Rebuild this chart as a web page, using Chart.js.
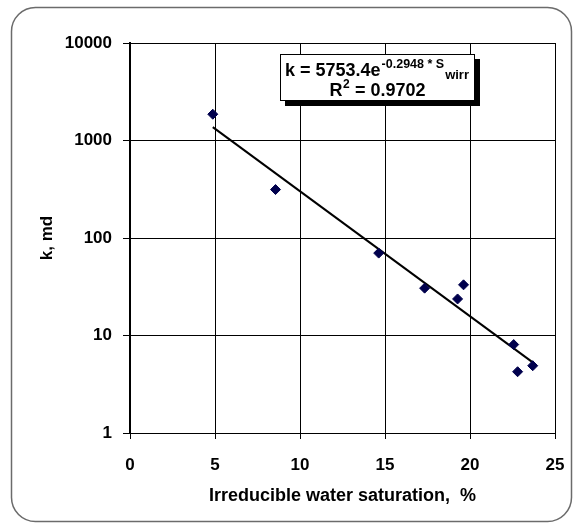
<!DOCTYPE html>
<html>
<head>
<meta charset="utf-8">
<script src="https://cdn.jsdelivr.net/npm/chart.js@4.4.1/dist/chart.umd.min.js"></script>
<style>
  html, body { margin: 0; padding: 0; background: #ffffff; }
  #wrap { width: 575px; height: 525px; position: relative; }
</style>
</head>
<body>
<div id="wrap"><canvas id="c" width="575" height="525"></canvas></div>
<script>
// Measured samples: irreducible water saturation (%) and permeability k (md)
const swirr = [4.87, 8.56, 14.63, 17.33, 19.27, 19.62, 22.57, 22.80, 23.69];
const perm  = [1860, 314, 70, 30.6, 23.7, 33.1, 8.07, 4.25, 4.9];
// Exponential trendline endpoints
const trendX = [4.87, 23.69];
const trendY = [1370, 5.3];
// Tick labels
const yTicks = [1, 10, 100, 1000, 10000];
const xTicks = [0, 5, 10, 15, 20, 25];
const xTitle = 'Irreducible water saturation,  %';
const yTitle = 'k, md';
const eqMain = 'k = 5753.4e';
const eqSup = '-0.2948 * S';
const eqSub = 'wirr';
const r2Label = 'R';
const r2Sup = '2';
const r2Value = ' = 0.9702';

const FONT = 'Liberation Sans, Arial, sans-serif';

const framePlugin = {
  id: 'frame',
  beforeDraw(chart) {
    const ctx = chart.ctx;
    ctx.save();
    ctx.fillStyle = '#ffffff';
    ctx.fillRect(0, 0, chart.width, chart.height);
    ctx.strokeStyle = '#6b6b6b';
    ctx.lineWidth = 1.5;
    const x = 11.5, y = 7.5, w = 560, h = 514, r = 24;
    ctx.beginPath();
    ctx.moveTo(x + r, y);
    ctx.lineTo(x + w - r, y);
    ctx.arcTo(x + w, y, x + w, y + r, r);
    ctx.lineTo(x + w, y + h - r);
    ctx.arcTo(x + w, y + h, x + w - r, y + h, r);
    ctx.lineTo(x + r, y + h);
    ctx.arcTo(x, y + h, x, y + h - r, r);
    ctx.lineTo(x, y + r);
    ctx.arcTo(x, y, x + r, y, r);
    ctx.closePath();
    ctx.stroke();
    ctx.restore();
  },
  afterDraw(chart) {
    const ctx = chart.ctx;
    ctx.save();
    // equation box
    const bx = 280, by = 54, bw = 195, bh = 47, sh = 5;
    ctx.fillStyle = '#000000';
    ctx.fillRect(bx + sh, by + sh, bw, bh);
    ctx.fillStyle = '#ffffff';
    ctx.fillRect(bx, by, bw, bh);
    ctx.strokeStyle = '#000000';
    ctx.lineWidth = 1;
    ctx.strokeRect(bx + 0.5, by + 0.5, bw - 1, bh - 1);

    ctx.fillStyle = '#000000';
    ctx.textBaseline = 'alphabetic';
    ctx.textAlign = 'left';
    // line 1
    ctx.font = 'bold 18px ' + FONT;
    let xPos = 285;
    ctx.fillText(eqMain, xPos, 76);
    xPos += ctx.measureText(eqMain).width;
    ctx.font = 'bold 12.5px ' + FONT;
    ctx.fillText(eqSup, xPos + 1, 68);
    xPos += ctx.measureText(eqSup).width + 2;
    ctx.font = 'bold 13px ' + FONT;
    ctx.fillText(eqSub, xPos, 79);

    // line 2 (centered)
    ctx.font = 'bold 18px ' + FONT;
    const wR = ctx.measureText(r2Label).width;
    const wV = ctx.measureText(r2Value).width;
    ctx.font = 'bold 12px ' + FONT;
    const wS = ctx.measureText(r2Sup).width;
    const total = wR + wS + 1 + wV;
    let x2 = bx + bw / 2 - total / 2;
    ctx.font = 'bold 18px ' + FONT;
    ctx.fillText(r2Label, x2, 96);
    x2 += wR;
    ctx.font = 'bold 12px ' + FONT;
    ctx.fillText(r2Sup, x2 + 0.5, 88);
    x2 += wS + 1;
    ctx.font = 'bold 18px ' + FONT;
    ctx.fillText(r2Value, x2, 96);
    ctx.restore();
  }
};

new Chart(document.getElementById('c'), {
  type: 'scatter',
  data: {
    datasets: [
      {
        label: 'samples',
        data: swirr.map((x, i) => ({ x: x, y: perm[i] })),
        pointStyle: 'rectRot',
        pointRadius: 5,
        pointBackgroundColor: '#00004d',
        pointBorderColor: '#00004d',
        pointBorderWidth: 1,
        showLine: false,
        order: 1
      },
      {
        label: 'trend',
        data: trendX.map((x, i) => ({ x: x, y: trendY[i] })),
        showLine: true,
        borderColor: '#000000',
        borderWidth: 2,
        pointRadius: 0,
        fill: false,
        order: 2
      }
    ]
  },
  options: {
    responsive: false,
    animation: false,
    devicePixelRatio: 1,
    layout: { autoPadding: false, padding: { left: 0, right: 20, top: 43, bottom: 0 } },
    plugins: {
      legend: { display: false },
      tooltip: { enabled: false }
    },
    scales: {
      x: {
        type: 'linear',
        min: 0, max: 25,
        afterBuildTicks: (s) => { s.ticks = xTicks.map(v => ({ value: v })); },
        afterFit: (s) => { s.height = 92; s.paddingLeft = 0; s.paddingRight = 0; },
        ticks: {
          color: '#000000',
          font: { family: FONT, size: 17, weight: 'bold' },
          padding: 16,
          maxRotation: 0
        },
        grid: { color: '#000000', lineWidth: 1, tickLength: 6, drawTicks: true },
        border: { color: '#000000', width: 1 },
        title: {
          display: true,
          text: xTitle,
          color: '#000000',
          font: { family: FONT, size: 18, weight: 'bold' },
          padding: { top: 0, bottom: 18 }
        }
      },
      y: {
        type: 'logarithmic',
        min: 1, max: 10000,
        afterBuildTicks: (s) => { s.ticks = yTicks.map(v => ({ value: v, major: true })); },
        afterFit: (s) => { s.width = 130; s.paddingTop = 0; s.paddingBottom = 0; },
        ticks: {
          color: '#000000',
          font: { family: FONT, size: 17, weight: 'bold' },
          padding: 11,
          callback: (v) => String(v)
        },
        grid: { color: '#000000', lineWidth: 1, tickLength: 7, drawTicks: true },
        border: { color: '#000000', width: 2 },
        title: {
          display: true,
          text: yTitle,
          color: '#000000',
          font: { family: FONT, size: 17, weight: 'bold' },
          padding: { top: 37, bottom: 0 }
        }
      }
    }
  },
  plugins: [framePlugin]
});
</script>
</body>
</html>
